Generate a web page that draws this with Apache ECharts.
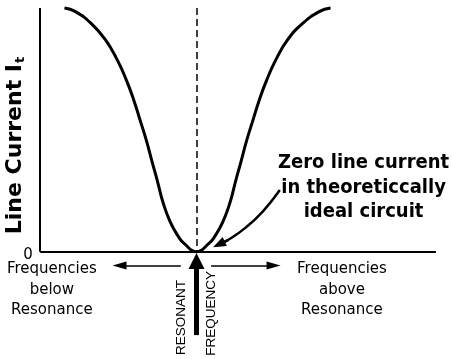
<!DOCTYPE html>
<html>
<head>
<meta charset="utf-8">
<script src="https://cdn.jsdelivr.net/npm/echarts@6/dist/echarts.min.js"></script>
<style>
  html, body { margin: 0; padding: 0; background: #fff; }
  #chart { width: 452px; height: 359px; }
</style>
</head>
<body>
<div id="chart"></div>
<script>
// Line current of an ideal parallel resonant circuit against frequency
// (frequency offset from resonance, arbitrary units; current in % of max)
const freqOffset = [-33.6, -30.8, -26.7, -23.2, -20.2, -17.9, -16.0, -14.4, -12.8, -11.3, -9.9, -8.5, -6.7, -4.6, -3.1, 0,
                    3.1, 4.6, 6.7, 8.5, 9.9, 11.3, 12.8, 14.4, 16.0, 17.9, 20.2, 23.2, 26.9, 31.2, 34.1];
const lineCurrent = [100, 98.5, 93.5, 87.0, 78.8, 70.6, 62.4, 54.2, 45.9, 36.9, 28.7, 20.1, 12.3, 6.2, 3.3, 0,
                     3.3, 6.2, 12.3, 20.1, 28.7, 36.9, 45.9, 54.2, 62.4, 70.6, 78.8, 87.0, 93.5, 98.5, 100];

// Text
const originLabel = '0';
const yAxisTitle = 'Line Current I';
const yAxisSubscript = 't';
const belowLabel = ['Frequencies', 'below', 'Resonance'];
const aboveLabel = ['Frequencies', 'above', 'Resonance'];
const resonantLabel = ['RESONANT', 'FREQUENCY'];
const noteLines = ['Zero line current', 'in theoreticcally', 'ideal circuit'];

// Curved pointer from the note down to the zero-current point
const notePointerPath = [[21.2, 25.3], [16.9, 16.6], [12.5, 9.9], [8.0, 4.8], [5.7, 3.0]];

const INK = '#000';
const GOTHIC = '"DejaVu Sans", sans-serif';
const CAPS = '"Liberation Sans", sans-serif';

const chart = echarts.init(document.getElementById('chart'), null, { renderer: 'canvas' });

const point = (x, y, extra) => Object.assign({ coord: [x, y] }, extra || {});
const stroke = (width, type) => ({ width: width, color: INK, type: type || 'solid' });

const n = notePointerPath.length;

chart.setOption({
  animation: false,
  backgroundColor: '#fff',
  grid: { left: 0, right: 0, top: 8, bottom: 0 },
  xAxis: { type: 'value', min: -50, max: 65, show: false },
  yAxis: { type: 'value', min: -44, max: 100, show: false },
  series: [{
    type: 'line',
    data: freqOffset.map((f, i) => [f, lineCurrent[i]]),
    smooth: 0.5,
    symbol: 'none',
    clip: false,
    lineStyle: { color: INK, width: 3 },
    markLine: {
      silent: true,
      animation: false,
      label: { show: false },
      symbol: ['none', 'none'],
      lineStyle: { color: INK, type: 'solid' },
      data: [
        // current axis
        [point(-39.8, 100, { lineStyle: stroke(2) }), point(-39.8, 0)],
        // frequency axis
        [point(-39.8, 0, { lineStyle: stroke(2) }), point(60.9, 0)],
        // resonance line
        [point(0, 100, { lineStyle: stroke(1.5, [7, 4]) }), point(0, 0)],
        // direction arrows under the axis
        [point(-4.0, -5.6, { lineStyle: stroke(1.5) }),
         point(-19.6, -5.6, { symbol: 'triangle', symbolSize: [8, 14] })],
        [point(3.7, -5.6, { lineStyle: stroke(1.5) }),
         point(19.6, -5.6, { symbol: 'triangle', symbolSize: [8, 14] })],
        // resonant frequency pointer
        [point(0, -34.2, { lineStyle: stroke(5) }),
         point(0, -3.8, { symbol: 'triangle', symbolSize: [16, 16] })]
      ]
    },
    markPoint: {
      silent: true,
      animation: false,
      symbol: 'circle',
      symbolSize: 0,
      itemStyle: { color: 'transparent' },
      label: { show: true, position: 'inside', color: INK, fontFamily: GOTHIC, fontSize: 15 },
      data: [
        point(-42.9, -1.3, { label: { formatter: originLabel, fontSize: 15 } }),
        point(-46.0, 43.6, {
          label: {
            formatter: '{a|' + yAxisTitle + '}{s|' + yAxisSubscript + '}',
            rotate: 90,
            rich: {
              a: { fontFamily: GOTHIC, fontSize: 22, fontWeight: 'bold', color: INK },
              s: { fontFamily: GOTHIC, fontSize: 13, fontWeight: 'bold', color: INK, padding: [10, 0, 0, 1] }
            }
          }
        }),
        point(-36.8, -15.7, { label: { formatter: belowLabel.join('\n'), lineHeight: 20.5, align: 'center' } }),
        point(37.0, -15.7, { label: { formatter: aboveLabel.join('\n'), lineHeight: 20.5, align: 'center' } }),
        point(-3.9, -27.0, { label: { formatter: resonantLabel[0], rotate: 90, fontSize: 13.5, fontFamily: CAPS } }),
        point(3.8, -25.3, { label: { formatter: resonantLabel[1], rotate: 90, fontSize: 13.5, fontFamily: CAPS } }),
        point(42.5, 26.4, {
          label: {
            formatter: noteLines.join('\n'),
            fontFamily: '"DejaVu Sans Condensed", "DejaVu Sans", sans-serif',
            fontWeight: 'bold',
            fontSize: 20,
            lineHeight: 24.5,
            align: 'center'
          }
        })
      ]
    }
  }, {
    // note pointer, ending in an arrowhead
    type: 'line',
    data: notePointerPath,
    smooth: 0.5,
    symbol: 'none',
    silent: true,
    lineStyle: { color: INK, width: 2.5 },
    markLine: {
      silent: true,
      animation: false,
      label: { show: false },
      lineStyle: { color: INK, type: 'solid', width: 2.5 },
      data: [[
        { coord: notePointerPath[n - 2], symbol: 'none' },
        { coord: notePointerPath[n - 1], symbol: 'triangle', symbolSize: [10, 13] }
      ]]
    }
  }]
});
</script>
</body>
</html>
